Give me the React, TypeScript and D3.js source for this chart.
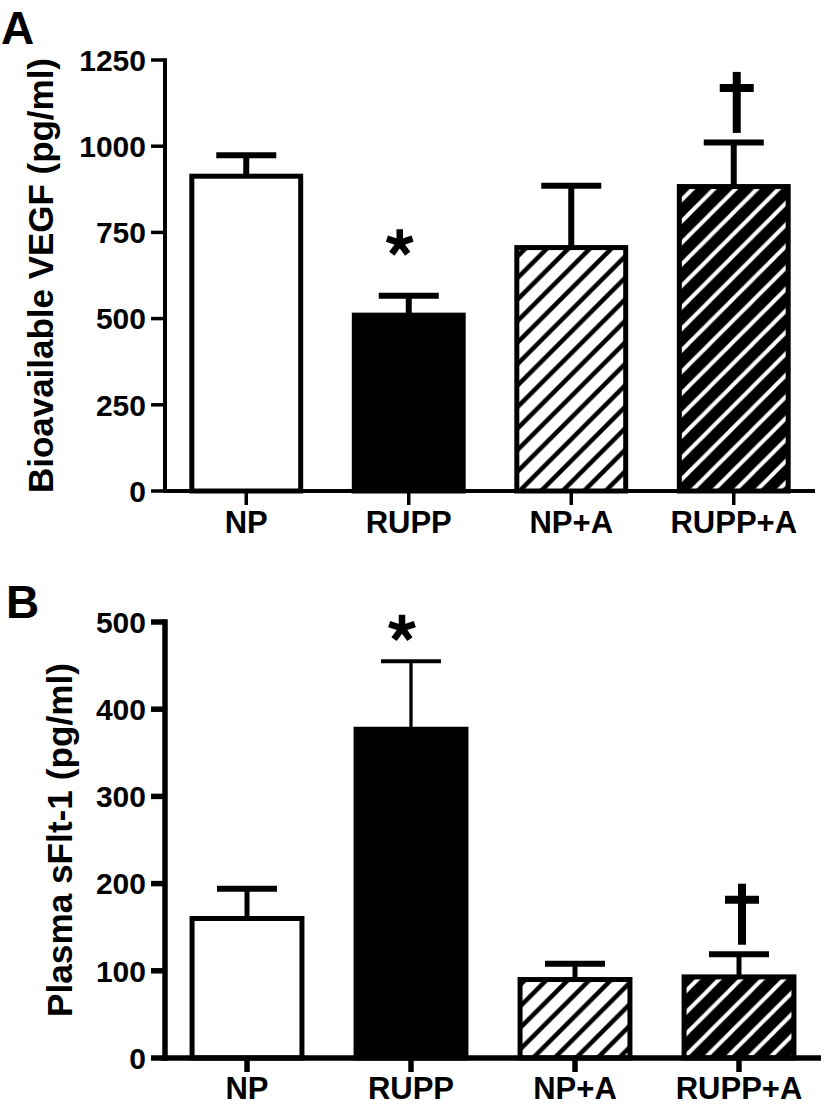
import React from "react";
import * as d3 from "d3";

// ---- data ----
const categories = ["NP", "RUPP", "NP+A", "RUPP+A"];
const vegfMean = [913, 510, 706, 883];
const vegfErr = [61, 56, 179, 128];
const sfltMean = [160, 377, 90, 93];
const sfltErr = [34, 78, 18, 26];
const vegfTicks = [0, 250, 500, 750, 1000, 1250];
const sfltTicks = [0, 100, 200, 300, 400, 500];
const vegfMarks = ["", "*", "", "†"];
const sfltMarks = ["", "*", "", "†"];

const FONT = "'Liberation Sans', Arial, Helvetica, sans-serif";
const fills = ["#ffffff", "#000000", "url(#hatchLight)", "url(#hatchDark)"];

type PanelProps = {
  letter: string;
  letterPos: [number, number];
  title: string;
  titleX: number;
  titleLen: number;
  mean: number[];
  err: number[];
  marks: string[];
  ticks: number[];
  yRange: [number, number];
  xRange: [number, number];
  axisW: number;
  tickW: number;
  errW: number[];
  capW: number[];
  xLabelY: number;
  tickFont: number;
};

function asteriskPath(cx: number, cy: number, r: number) {
  const p = d3.path();
  for (let i = 0; i < 5; i++) {
    const a = (-90 + i * 72) * (Math.PI / 180);
    p.moveTo(cx, cy);
    p.lineTo(cx + r * Math.cos(a), cy + r * Math.sin(a));
  }
  return p.toString();
}

function Panel(props: PanelProps) {
  const {
    letter, letterPos, title, titleX, titleLen, mean, err, marks, ticks,
    yRange, xRange, axisW, tickW, errW, capW, xLabelY, tickFont,
  } = props;
  const y = d3.scaleLinear().domain([0, d3.max(ticks) as number]).range(yRange);
  const x = d3
    .scaleBand<string>()
    .domain(categories)
    .range(xRange)
    .paddingInner(0.33)
    .paddingOuter(0.165);
  const bw = x.bandwidth();
  const y0 = y(0);
  const axX = xRange[0];
  const titleCY = (y(0) + y(d3.max(ticks) as number)) / 2;

  return (
    <g>
      <text x={letterPos[0]} y={letterPos[1]} fontFamily={FONT} fontWeight="bold" fontSize={46}>
        {letter}
      </text>
      <text
        transform={`translate(${titleX},${titleCY}) rotate(-90)`}
        textAnchor="middle"
        fontFamily={FONT}
        fontWeight="bold"
        fontSize={35}
        textLength={titleLen}
        lengthAdjust="spacingAndGlyphs"
      >
        {title}
      </text>
      {/* bars */}
      {categories.map((c, i) => (
        <rect
          key={c}
          x={x(c)}
          y={y(mean[i])}
          width={bw}
          height={y0 - y(mean[i])}
          fill={fills[i]}
          stroke="#000"
          strokeWidth={5}
        />
      ))}
      {/* error bars */}
      {categories.map((c, i) => {
        const cx = (x(c) as number) + bw / 2;
        const top = y(mean[i] + err[i]);
        return (
          <g key={c} stroke="#000" strokeLinecap="butt">
            <line x1={cx} x2={cx} y1={y(mean[i])} y2={top} strokeWidth={errW[i]} />
            <line x1={cx - 30} x2={cx + 30} y1={top} y2={top} strokeWidth={capW[i]} />
          </g>
        );
      })}
      {/* significance marks */}
      {categories.map((c, i) => {
        const cx = (x(c) as number) + bw / 2;
        const top = y(mean[i] + err[i]);
        if (marks[i] === "*") {
          const cy = top - (yRange[0] > 600 ? 33 : 53);
          return (
            <path key={c} d={asteriskPath(cx - 9, cy, 13.5)} stroke="#000" strokeWidth={6.5} fill="none" />
          );
        }
        if (marks[i] === "†") {
          const bottom = top - 9.5;
          const dTop = bottom - 61;
          return (
            <g key={c} stroke="#000">
              <line x1={cx + 3} x2={cx + 3} y1={bottom} y2={dTop} strokeWidth={8} />
              <line x1={cx + 3 - 17} x2={cx + 3 + 17} y1={dTop + 16} y2={dTop + 16} strokeWidth={8} />
            </g>
          );
        }
        return null;
      })}
      {/* y axis */}
      <line x1={axX} x2={axX} y1={y0 + axisW / 2} y2={y(d3.max(ticks) as number) - tickW / 2} stroke="#000" strokeWidth={axisW} />
      {ticks.map((t) => (
        <g key={t}>
          <line x1={151} x2={axX} y1={y(t)} y2={y(t)} stroke="#000" strokeWidth={tickW} />
          <text
            x={146}
            y={y(t)}
            dy="0.36em"
            textAnchor="end"
            fontFamily={FONT}
            fontWeight="bold"
            fontSize={tickFont}
          >
            {t}
          </text>
        </g>
      ))}
      {/* x axis */}
      <line x1={axX - axisW / 2} x2={xRange[1]} y1={y0} y2={y0} stroke="#000" strokeWidth={axisW} />
      {categories.map((c) => {
        const cx = (x(c) as number) + bw / 2;
        return (
          <g key={c}>
            <line x1={cx} x2={cx} y1={y0} y2={y0 + 14} stroke="#000" strokeWidth={tickW} />
            <text x={cx} y={xLabelY} textAnchor="middle" fontFamily={FONT} fontWeight="bold" fontSize={31}>
              {c}
            </text>
          </g>
        );
      })}
    </g>
  );
}

export default function App() {
  const s = 21.5;
  return (
    <svg
      width={824}
      height={1112}
      viewBox="0 0 824 1112"
      style={{ position: "absolute", left: 0, top: 0, background: "#fff" }}
    >
      <defs>
        <pattern id="hatchLight" patternUnits="userSpaceOnUse" width={s} height={s}>
          <rect width={s} height={s} fill="#fff" />
          <path
            d={`M0,${s} L${s},0 M${-s / 2},${s / 2} L${s / 2},${-s / 2} M${s / 2},${s * 1.5} L${s * 1.5},${s / 2}`}
            stroke="#000"
            strokeWidth={4.5}
          />
        </pattern>
        <pattern id="hatchDark" patternUnits="userSpaceOnUse" width={s} height={s}>
          <rect width={s} height={s} fill="#000" />
          <path
            d={`M0,${s} L${s},0 M${-s / 2},${s / 2} L${s / 2},${-s / 2} M${s / 2},${s * 1.5} L${s * 1.5},${s / 2}`}
            stroke="#fff"
            strokeWidth={4}
          />
        </pattern>
      </defs>
      <rect width={824} height={1112} fill="#fff" />
      <Panel
        letter="A"
        letterPos={[1, 44]}
        title="Bioavailable VEGF (pg/ml)"
        titleX={53}
        titleLen={435}
        mean={vegfMean}
        err={vegfErr}
        marks={vegfMarks}
        ticks={vegfTicks}
        yRange={[491, 60]}
        xRange={[165, 815]}
        axisW={4}
        tickW={3.5}
        errW={[6, 6, 6, 6]}
        capW={[6, 6, 6, 6]}
        xLabelY={533}
        tickFont={30}
      />
      <Panel
        letter="B"
        letterPos={[6, 618]}
        title="Plasma sFlt-1 (pg/ml)"
        titleX={72}
        titleLen={354}
        mean={sfltMean}
        err={sfltErr}
        marks={sfltMarks}
        ticks={sfltTicks}
        yRange={[1058, 622]}
        xRange={[165, 821]}
        axisW={5.5}
        tickW={5.5}
        errW={[5, 3.3, 5, 5]}
        capW={[6, 4, 6, 6]}
        xLabelY={1099}
        tickFont={30}
      />
    </svg>
  );
}
